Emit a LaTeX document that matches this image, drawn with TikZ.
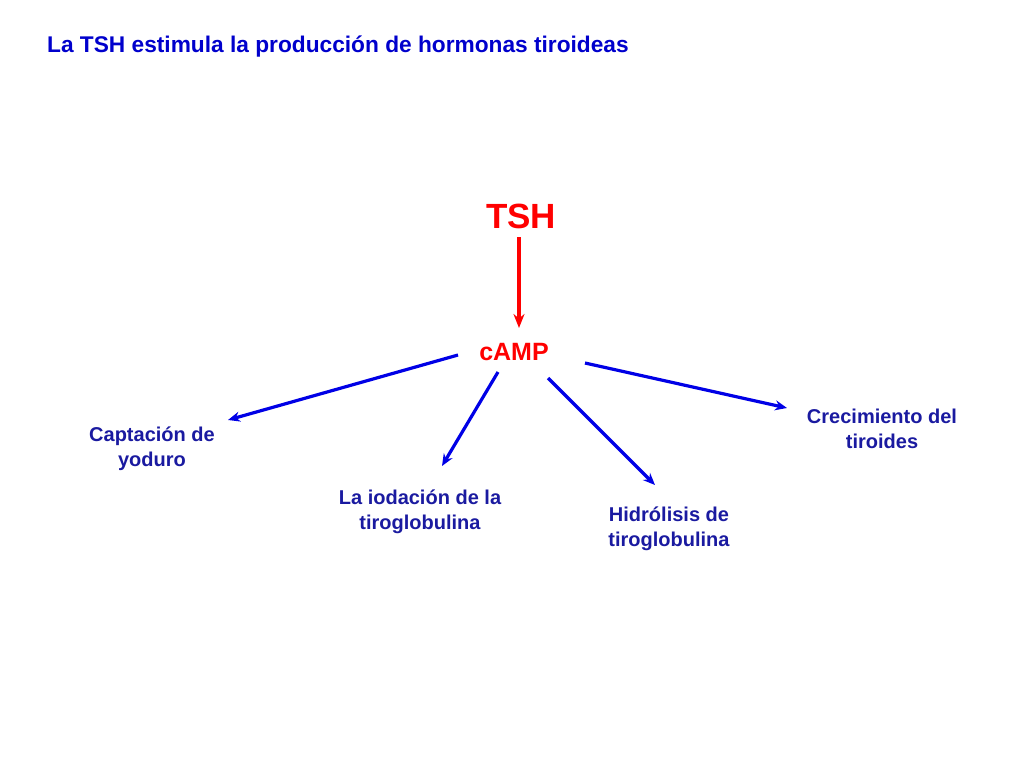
\documentclass[tikz,border=0pt]{standalone}
\usepackage{fontspec}
\setmainfont{Liberation Sans}
\usetikzlibrary{arrows.meta}
\definecolor{ttl}{RGB}{0,0,204}
\definecolor{lbl}{RGB}{26,26,160}
\definecolor{arr}{RGB}{0,0,230}
\definecolor{tred}{RGB}{255,0,0}
\tikzset{
  lab/.style={text=lbl,font=\fontsize{20}{25}\selectfont\bfseries,align=center,inner sep=0pt},
  barrow/.style={draw=arr,line width=3.2pt,-{Stealth[length=12pt,width=10pt]}},
  rarrow/.style={draw=tred,line width=3.2pt,-{Stealth[length=14pt,width=11pt]}}
}
\begin{document}
\begin{tikzpicture}[x=1pt,y=-1pt]
\useasboundingbox (0,0) rectangle (1024,768);
\node[anchor=west,text=ttl,font=\fontsize{22.7}{27}\selectfont\bfseries,inner sep=0pt] (title) at (47,47) {La TSH estimula la producción de hormonas tiroideas};
\node[text=tred,font=\fontsize{35}{40}\selectfont\bfseries,inner sep=0pt] (tsh) at (521,216) {TSH};
\node[text=tred,font=\fontsize{25}{30}\selectfont\bfseries,inner sep=0pt] (camp) at (514,352) {cAMP};
\node[lab] (capt) at (152,449) {Captación de\\yoduro};
\node[lab] (iod) at (420,512) {La iodación de la\\tiroglobulina};
\node[lab] (hid) at (669,529) {Hidrólisis de\\tiroglobulina};
\node[lab] (crec) at (882,429) {Crecimiento del\\tiroides};
\coordinate (r1) at (519,237); \coordinate (r2) at (519,328);
\coordinate (a1) at (458,355); \coordinate (b1) at (228,420);
\coordinate (a2) at (498,372); \coordinate (b2) at (442,466);
\coordinate (a3) at (548,378); \coordinate (b3) at (655,485);
\coordinate (a4) at (585,363); \coordinate (b4) at (787,408);
\draw[rarrow] (r1) -- (r2);
\draw[barrow] (a1) -- (b1);
\draw[barrow] (a2) -- (b2);
\draw[barrow] (a3) -- (b3);
\draw[barrow] (a4) -- (b4);
\end{tikzpicture}
\end{document}
